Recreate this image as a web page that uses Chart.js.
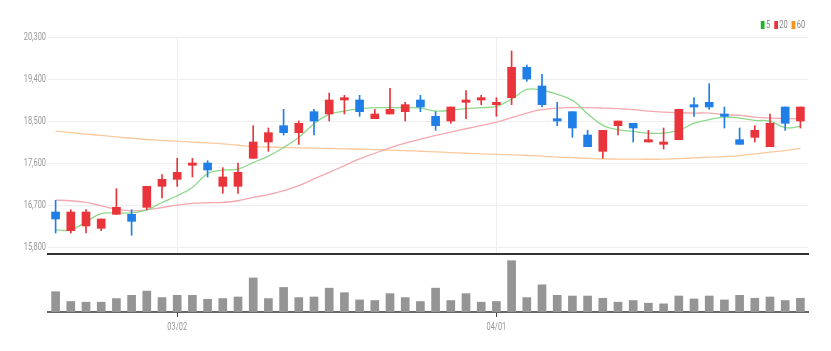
<!DOCTYPE html>
<html>
<head>
<meta charset="utf-8">
<script src="https://cdn.jsdelivr.net/npm/chart.js@4"></script>
<style>
  body { margin: 0; background: #fff; }
  #wrap { position: relative; width: 831px; height: 351px; }
  #priceBox { position: absolute; left: 0; top: 0; width: 831px; height: 263px; }
  #volBox { position: absolute; left: 0; top: 256px; width: 831px; height: 95px; }
  #legend { position: absolute; top: 19px; right: 26px; font: 10px Roboto, sans-serif; color: #888;
            transform: scaleX(0.75); transform-origin: right center; white-space: nowrap; }
  #legend span.box { display: inline-block; width: 5px; height: 8px; margin: 0 2px 0 5px; vertical-align: -1px; }
</style>
</head>
<body>
<div id="wrap">
  <div id="priceBox"><canvas id="priceChart"></canvas></div>
  <div id="volBox"><canvas id="volChart"></canvas></div>
  <div id="legend"></div>
</div>
<script>
// trading days shown on the chart
const dates = ['02/17','02/18','02/21','02/22','02/23','02/24','02/25','02/28',
  '03/02','03/03','03/04','03/07','03/08','03/10','03/11','03/14','03/15','03/16','03/17','03/18',
  '03/21','03/22','03/23','03/24','03/25','03/28','03/29','03/30','03/31',
  '04/01','04/04','04/05','04/06','04/07','04/08','04/11','04/12','04/13','04/14','04/15',
  '04/18','04/19','04/20','04/21','04/22','04/25','04/26','04/27','04/28','04/29'];
const dateTicks = ['03/02', '04/01'];
const priceTicks = [15800, 16700, 17600, 18500, 19400, 20300];

const open  = [16550,16150,16250,16200,16500,16500,16650,17100,17250,17550,17600,17100,17100,17700,18050,18400,18250,18700,18650,18950,
               18950,18550,18650,18700,18950,18600,18500,18900,18950,18850,19000,19650,19250,18550,18700,18200,17850,18400,18450,18050,
               18000,18100,18850,18900,18650,18100,18150,17950,18800,18500];
const high  = [16800,16600,16600,16400,17050,16600,17100,17350,17700,17700,17650,17500,17600,18400,18350,18750,18500,18750,19100,19050,
               19050,18750,19200,18900,19050,18700,18800,19150,19050,19000,20000,19700,19500,18900,18700,18300,18300,18500,18450,18300,
               18350,18750,19000,19300,18800,18350,18400,18650,18800,18800];
const low   = [16100,16100,16100,16150,16500,16050,16600,16850,17100,17300,17300,16950,16950,17700,17850,18200,18000,18200,18500,18650,
               18600,18550,18650,18500,18700,18300,18450,18550,18850,18600,18850,19350,18800,18400,18150,17950,17700,18200,18050,18050,
               17900,18100,18600,18750,18350,18000,18050,17950,18300,18350];
const close = [16400,16550,16550,16400,16650,16350,17100,17250,17400,17600,17450,17300,17400,18050,18250,18250,18450,18500,18950,19000,
               18700,18650,18750,18850,18800,18400,18800,18950,19000,18900,19650,19400,18850,18500,18350,17950,18300,18500,18350,18100,
               18050,18750,18800,18800,18600,18000,18300,18450,18450,18800];

const ma5  = [16166,16166,16338,16517,16526,16532,16597,16754,16898,17077,17372,17447,17469,17609,17749,17932,18153,18442,18642,18713,
              18765,18786,18786,18786,18778,18713,18728,18765,18786,18814,18972,19176,19159,19073,18944,18657,18405,18313,18276,18240,
              18240,18298,18455,18528,18584,18563,18513,18498,18356,18384];
const ma20 = [16806,16791,16754,16683,16612,16575,16597,16646,16698,16733,16748,16754,16791,16862,16920,17006,17114,17258,17400,17544,
              17688,17809,17925,18024,18110,18190,18261,18334,18405,18476,18571,18670,18743,18778,18786,18786,18778,18765,18743,18713,
              18692,18679,18670,18670,18636,18621,18584,18563,18550,18550];
const ma60 = [18283,18250,18220,18190,18160,18130,18104,18085,18067,18048,18030,18011,17980,17953,17943,17932,17925,17918,17911,17904,
              17895,17886,17876,17867,17852,17838,17824,17809,17797,17785,17773,17761,17749,17727,17714,17701,17688,17685,17682,17680,
              17685,17695,17710,17725,17738,17759,17796,17831,17867,17917];

const volume = [207,107,100,100,137,170,213,147,170,170,130,137,153,347,137,250,147,153,243,197,
                123,117,187,147,107,243,117,187,100,107,523,147,277,170,163,163,140,100,117,90,
                83,163,133,163,123,170,140,153,117,140];

const UP = '#e8343a', DOWN = '#1f7fe6';
const candleColors = open.map((o, i) => close[i] >= o ? UP : DOWN);
const fontFamily = 'Roboto, sans-serif';
const tickFont = { family: fontFamily, size: 10 };
const hidden = 'rgba(0,0,0,0)';

const maSeries = [
  { label: '5', data: ma5, line: '#8ed88a', key: '#1fb52a' },
  { label: '20', data: ma20, line: '#f4a8b0', key: '#e8343a' },
  { label: '60', data: ma60, line: '#fbc99c', key: '#f7941d' }
];

// legend in the top right corner
document.getElementById('legend').innerHTML = maSeries.map(s =>
  '<span class="box" style="background:' + s.key + '"></span>' + s.label).join('');

function keepDateTicks(scale) {
  scale.ticks = scale.ticks.filter(t => dateTicks.includes(dates[t.value]));
}

// the labels in the picture are narrow, so draw them squeezed
const narrowLabels = {
  id: 'narrowLabels',
  afterDraw(chart, args, opts) {
    const ctx = chart.ctx;
    ctx.save();
    ctx.font = '10px ' + fontFamily;
    ctx.fillStyle = '#999';
    ctx.textBaseline = 'middle';
    opts.items(chart).forEach(it => {
      ctx.save();
      ctx.translate(it.x, it.y);
      ctx.scale(0.74, 1);
      ctx.textAlign = it.align;
      ctx.fillText(it.text, 0, 0);
      ctx.restore();
    });
    ctx.restore();
  }
};

new Chart(document.getElementById('priceChart').getContext('2d'), {
  type: 'bar',
  data: {
    labels: dates,
    datasets: [
      ...maSeries.map(s => ({
        type: 'line', label: s.label, data: s.data,
        borderColor: s.line, borderWidth: 1.3, pointRadius: 0, tension: 0.4, order: 3
      })),
      {
        label: 'wick', data: low.map((l, i) => [l, high[i]]),
        backgroundColor: candleColors, barThickness: 1, grouped: false, order: 2
      },
      {
        label: 'body', data: open.map((o, i) => [o, close[i]]),
        backgroundColor: candleColors, barThickness: 8, grouped: false, order: 1
      }
    ]
  },
  plugins: [narrowLabels],
  options: {
    responsive: true,
    maintainAspectRatio: false,
    animation: false,
    layout: { padding: { top: 37, right: 23, left: 0, bottom: 0 } },
    plugins: {
      legend: { display: false },
      tooltip: { enabled: false },
      narrowLabels: {
        items: c => priceTicks.map(v => ({
          text: v.toLocaleString('en-US'), x: 46, y: c.scales.y.getPixelForValue(v), align: 'right'
        }))
      }
    },
    scales: {
      x: {
        afterBuildTicks: keepDateTicks,
        ticks: { display: false },
        grid: { color: '#eeeeee', offset: false, drawTicks: false },
        border: { color: '#333', width: 2 }
      },
      y: {
        min: 15650, max: 20300,
        afterBuildTicks: s => { s.ticks = priceTicks.map(v => ({ value: v })); },
        afterFit: s => { s.width = 48; },
        ticks: { font: tickFont, color: hidden },
        grid: { color: '#eeeeee', drawTicks: false },
        border: { display: false }
      }
    }
  }
});

new Chart(document.getElementById('volChart').getContext('2d'), {
  type: 'bar',
  data: {
    labels: dates,
    datasets: [{ label: 'volume', data: volume, backgroundColor: '#959595', barThickness: 8 }]
  },
  plugins: [narrowLabels],
  options: {
    responsive: true,
    maintainAspectRatio: false,
    animation: false,
    layout: { padding: { top: 4, right: 23, left: 48, bottom: 18 } },
    plugins: {
      legend: { display: false },
      tooltip: { enabled: false },
      narrowLabels: {
        items: c => dateTicks.map(d => ({
          text: d, x: c.scales.x.getPixelForValue(dates.indexOf(d)), y: c.chartArea.bottom + 15, align: 'center'
        }))
      }
    },
    scales: {
      x: {
        afterBuildTicks: keepDateTicks,
        ticks: { font: tickFont, color: hidden, maxRotation: 0, autoSkip: false, padding: 2 },
        grid: { drawOnChartArea: false, offset: false, tickLength: 5, color: '#444' },
        border: { color: '#666', width: 2 }
      },
      y: { display: false, min: 0, max: 530 }
    }
  }
});
</script>
</body>
</html>
